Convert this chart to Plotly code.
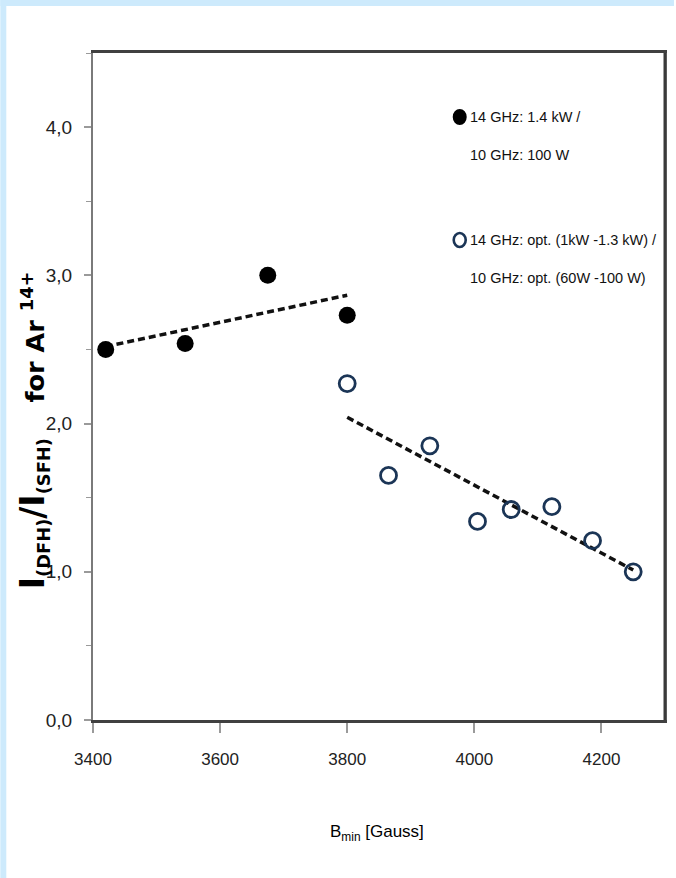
import numpy as np
import plotly.graph_objects as go

# Bmin [Gauss] and I(DFH)/I(SFH) ratio for Ar14+
fixed_x = [3420, 3545, 3675, 3800]
fixed_y = [2.50, 2.54, 3.00, 2.73]

opt_x = [3800, 3865, 3930, 4005, 4058, 4122, 4186, 4250]
opt_y = [2.27, 1.65, 1.85, 1.34, 1.42, 1.44, 1.21, 1.00]

legend_fixed = ["14 GHz: 1.4 kW /", "10 GHz: 100 W"]
legend_opt = ["14 GHz: opt. (1kW -1.3 kW) /", "10 GHz: opt. (60W -100 W)"]

x_ticks = [3400, 3600, 3800, 4000, 4200]
y_ticks = [0.0, 1.0, 2.0, 3.0, 4.0]

SANS = "Liberation Sans, Arial, sans-serif"
OPEN_COLOR = "#1b3556"
FRAME_BLUE = "#cdeafc"

W, H = 676, 878
M_L, M_R, M_T, M_B = 93, 9, 53, 158
PW, PH = W - M_L - M_R, H - M_T - M_B


def px_x(p):
    return (p - M_L) / PW


def px_y(p):
    return (H - M_B - p) / PH


def trend(xs, ys):
    k, b = np.polyfit(xs, ys, 1)
    xx = np.array([min(xs), max(xs)], dtype=float)
    return xx, k * xx + b


fig = go.Figure()

for xs, ys in ((fixed_x, fixed_y), (opt_x, opt_y)):
    tx, ty = trend(xs, ys)
    fig.add_trace(go.Scatter(x=tx, y=ty, mode="lines",
                             line=dict(color="#111111", width=3.5, dash="7px,4px"),
                             hoverinfo="skip"))

fig.add_trace(go.Scatter(x=fixed_x, y=fixed_y, mode="markers",
                         marker=dict(symbol="circle", size=17, color="#000000",
                                     line=dict(width=0))))
fig.add_trace(go.Scatter(x=opt_x, y=opt_y, mode="markers",
                         marker=dict(symbol="circle-open", size=16, color=OPEN_COLOR,
                                     line=dict(width=2.8, color=OPEN_COLOR))))

shapes = [
    # light blue frame strips on the left and top edges
    dict(type="rect", xref="paper", yref="paper", x0=px_x(0), x1=px_x(6),
         y0=px_y(H), y1=px_y(0), fillcolor=FRAME_BLUE, line=dict(width=0), layer="below"),
    dict(type="rect", xref="paper", yref="paper", x0=px_x(0), x1=px_x(W),
         y0=px_y(6), y1=px_y(0), fillcolor=FRAME_BLUE, line=dict(width=0), layer="below"),
    # darker right border of the plot box
    dict(type="line", xref="paper", yref="paper", x0=1, x1=1, y0=0, y1=1,
         line=dict(color="#3a3a3a", width=3)),
    # legend keys
    dict(type="circle", xref="paper", yref="paper", xsizemode="pixel", ysizemode="pixel",
         xanchor=px_x(461), yanchor=px_y(117), x0=-7, x1=7, y0=-8, y1=8,
         fillcolor="#000000", line=dict(width=0)),
    dict(type="circle", xref="paper", yref="paper", xsizemode="pixel", ysizemode="pixel",
         xanchor=px_x(461), yanchor=px_y(240), x0=-6, x1=6, y0=-7, y1=7,
         fillcolor="rgba(0,0,0,0)", line=dict(width=2.6, color=OPEN_COLOR)),
]

annotations = []
for text, ypx in zip(legend_fixed + legend_opt, [117, 155, 240, 278]):
    annotations.append(dict(text=text, xref="paper", yref="paper", x=px_x(469), y=px_y(ypx),
                            xanchor="left", yanchor="middle", showarrow=False,
                            font=dict(family=SANS, size=14.5, color="#111111")))

annotations.append(dict(
    text=("<span style='font-size:33px'>I</span><sub>(DFH)</sub>"
          "<span style='font-size:33px'>/I</span><sub>(SFH)</sub>"
          "    for Ar <sup>14+</sup>"),
    xref="paper", yref="paper", x=px_x(33), y=px_y(430), textangle=-90,
    xanchor="center", yanchor="middle", showarrow=False,
    font=dict(family="DejaVu Sans, Liberation Sans, sans-serif", size=25.5,
              color="#000000", weight="bold")))

annotations.append(dict(
    text="B<sub>min</sub> [Gauss]", xref="paper", yref="paper",
    x=px_x(378), y=px_y(833), xanchor="center", yanchor="middle", showarrow=False,
    font=dict(family=SANS, size=17, color="#000000")))

fig.update_layout(
    width=W, height=H,
    margin=dict(l=M_L, r=M_R, t=M_T, b=M_B, pad=0),
    paper_bgcolor="#ffffff", plot_bgcolor="#ffffff",
    showlegend=False,
    separators=", ",
    shapes=shapes,
    annotations=annotations,
    xaxis=dict(range=[3400, 4300], tickvals=x_ticks, ticktext=[str(v) for v in x_ticks],
               showgrid=False, zeroline=False,
               showline=True, linecolor="#404040", linewidth=3, mirror=True,
               ticks="outside", ticklen=10, tickwidth=1.5, tickcolor="#9a9a9a",
               ticklabelstandoff=12,
               tickfont=dict(family=SANS, size=17, color="#222222")),
    yaxis=dict(range=[0, 4.5], tickvals=y_ticks, tickformat=".1f",
               showgrid=False, zeroline=False,
               showline=True, linecolor="#7a7a7a", linewidth=2, mirror=True,
               ticks="outside", ticklen=7, tickwidth=1.5, tickcolor="#9a9a9a",
               minor=dict(dtick=0.5, ticks="outside", ticklen=5, tickcolor="#9a9a9a", tickwidth=1.2),
               ticklabelstandoff=8,
               tickfont=dict(family=SANS, size=19, color="#222222")),
)

fig.write_html("out.html")
